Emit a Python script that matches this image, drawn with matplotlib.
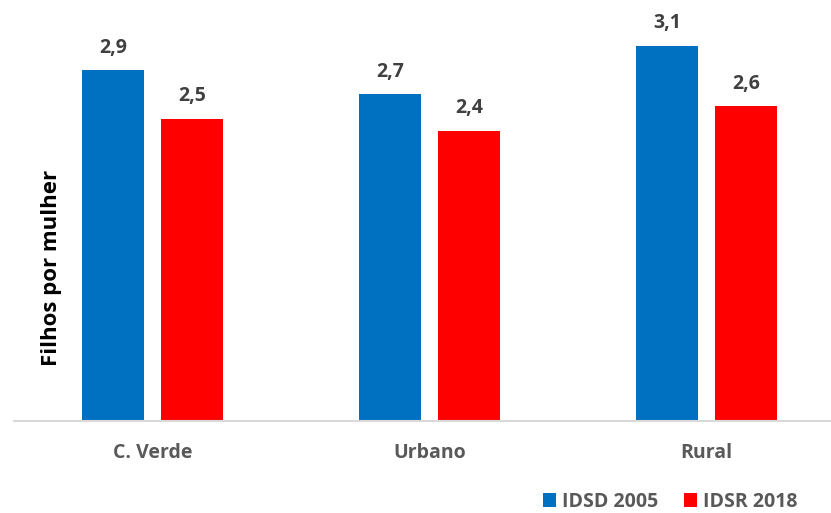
import matplotlib
matplotlib.use("Agg")
import matplotlib.pyplot as plt
import numpy as np

plt.rcParams['font.family'] = ['Open Sans', 'DejaVu Sans']
plt.rcParams['font.weight'] = 'bold'

categorias = ["C. Verde", "Urbano", "Rural"]
idsd_2005 = [2.9, 2.7, 3.1]
idsr_2018 = [2.5, 2.4, 2.6]
series = ["IDSD 2005", "IDSR 2018"]
cores = ["#0070C0", "#FF0000"]

fig = plt.figure(figsize=(8.31, 5.13), dpi=100)
# eixo ligeiramente mais largo que a figura, como no gráfico original
ax = fig.add_axes([14 / 831, 92 / 513, 831 / 831, 412 / 513])

x = np.arange(len(categorias))
larg = 0.224
desl = 0.1426
b1 = ax.bar(x - desl, idsd_2005, larg, color=cores[0], label=series[0])
b2 = ax.bar(x + desl, idsr_2018, larg, color=cores[1], label=series[1])

for barras in (b1, b2):
    for b in barras:
        v = b.get_height()
        ax.annotate(f"{v:.1f}".replace(".", ","),
                    (b.get_x() + b.get_width() / 2, v),
                    xytext=(0, 9), textcoords="offset points",
                    ha="center", va="bottom", fontsize=14,
                    fontweight="bold", color="#404040")

ax.set_xlim(-0.5, len(categorias) - 0.5)
ax.set_ylim(0, 412 / 121)
ax.set_xticks(x)
ax.set_xticklabels(categorias, fontsize=14, fontweight="bold", color="#595959")
ax.tick_params(axis="x", length=0, pad=16)
ax.set_yticks([])
for s in ("top", "right", "left"):
    ax.spines[s].set_visible(False)
ax.spines["bottom"].set_color("#D9D9D9")
ax.spines["bottom"].set_linewidth(1.5)

fig.text(52 / 831, 1 - 268 / 513, "Filhos por mulher", rotation=90,
         ha="center", va="center", fontsize=16, fontweight="bold", color="black")

fig.legend(handles=[b1, b2], labels=series, loc="lower center",
           bbox_to_anchor=(670 / 831, 0), ncol=2, frameon=False,
           borderpad=0.05, borderaxespad=0,
           handlelength=0.7, handleheight=0.7, handletextpad=0.3,
           columnspacing=1.3, prop={"size": 14, "weight": "bold"},
           labelcolor="#595959")

fig.savefig("out.png", dpi=100)
